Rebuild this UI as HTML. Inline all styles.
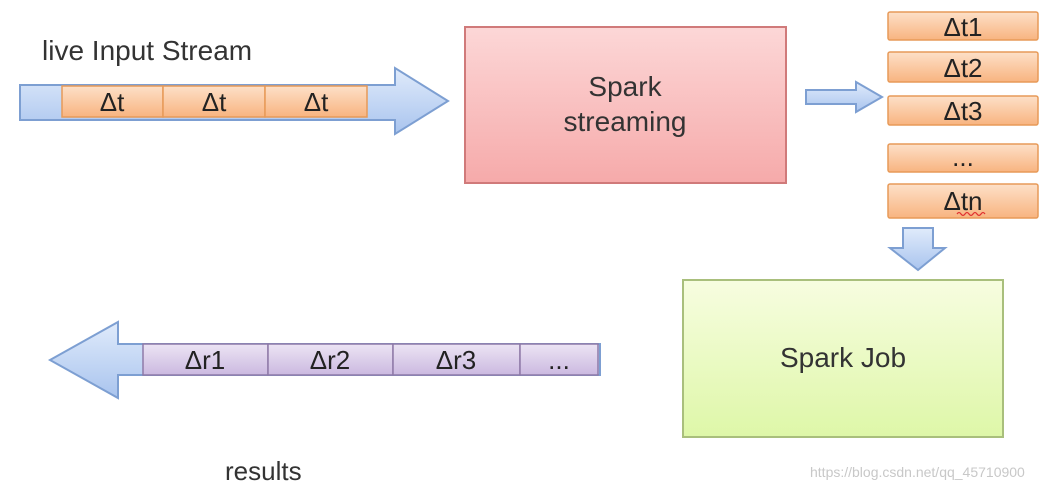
<!DOCTYPE html>
<html><head><meta charset="utf-8"><style>
html,body{margin:0;padding:0;background:#fff;}
svg{display:block;font-family:"Liberation Sans","DejaVu Sans",sans-serif;}
</style></head><body>
<svg width="1063" height="490" viewBox="0 0 1063 490" xmlns="http://www.w3.org/2000/svg">
<defs>
<linearGradient id="blue" x1="0" y1="0" x2="0" y2="1"><stop offset="0" stop-color="#e0ebfb"/><stop offset="1" stop-color="#a9c4ee"/></linearGradient>
<linearGradient id="orange" x1="0" y1="0" x2="0" y2="1"><stop offset="0" stop-color="#fde0c8"/><stop offset="1" stop-color="#f8b480"/></linearGradient>
<linearGradient id="pink" x1="0" y1="0" x2="0" y2="1"><stop offset="0" stop-color="#fcd7d7"/><stop offset="1" stop-color="#f6aaaa"/></linearGradient>
<linearGradient id="green" x1="0" y1="0" x2="0" y2="1"><stop offset="0" stop-color="#f7fde0"/><stop offset="1" stop-color="#def7a8"/></linearGradient>
<linearGradient id="purple" x1="0" y1="0" x2="0" y2="1"><stop offset="0" stop-color="#ece4f4"/><stop offset="1" stop-color="#cbb9e0"/></linearGradient>
</defs>

<text x="42" y="60" font-size="28" fill="#333">live Input Stream</text>
<polygon points="20,85 395,85 395,68 448,101 395,134 395,120 20,120" fill="url(#blue)" stroke="#7d9fd2" stroke-width="2"/>
<g stroke="#e79a58" stroke-width="1.5" fill="url(#orange)">
<rect x="62" y="86" width="101" height="31"/><rect x="163" y="86" width="102" height="31"/><rect x="265" y="86" width="102" height="31"/>
</g>
<g font-size="26" text-anchor="middle" fill="#222">
<text x="112" y="111">Δt</text><text x="214" y="111">Δt</text><text x="316" y="111">Δt</text>
</g>

<rect x="465" y="27" width="321" height="156" fill="url(#pink)" stroke="#d07a7a" stroke-width="2"/>
<text x="625" y="96" font-size="28" text-anchor="middle" fill="#333">Spark</text>
<text x="625" y="131" font-size="28" text-anchor="middle" fill="#333">streaming</text>

<polygon points="806,90 856,90 856,82 882,97 856,112 856,104 806,104" fill="url(#blue)" stroke="#7d9fd2" stroke-width="2"/>

<g stroke="#e79a58" stroke-width="1.5" fill="url(#orange)">
<rect x="888" y="12" width="150" height="28" rx="2"/>
<rect x="888" y="52" width="150" height="30" rx="2"/>
<rect x="888" y="96" width="150" height="29" rx="2"/>
<rect x="888" y="144" width="150" height="28" rx="2"/>
<rect x="888" y="184" width="150" height="34" rx="2"/>
</g>
<g font-size="26" text-anchor="middle" fill="#222">
<text x="963" y="36">Δt1</text><text x="963" y="77">Δt2</text><text x="963" y="120">Δt3</text>
<text x="963" y="166">...</text><text x="963" y="210">Δtn</text>
</g>
<path d="M957,214 q2,-3 4,0 t4,0 t4,0 t4,0 t4,0 t4,0 t4,0" stroke="#e03030" stroke-width="1.2" fill="none"/>

<polygon points="903,228 933,228 933,248 945,248 918,270 890,248 903,248" fill="url(#blue)" stroke="#7d9fd2" stroke-width="2"/>

<rect x="683" y="280" width="320" height="157" fill="url(#green)" stroke="#a9bf7c" stroke-width="2"/>
<text x="843" y="367" font-size="28" text-anchor="middle" fill="#333">Spark Job</text>

<polygon points="50,360 118,322 118,344 600,344 600,375 118,375 118,398" fill="url(#blue)" stroke="#7d9fd2" stroke-width="2"/>
<g stroke="#8f7aa8" stroke-width="1.5" fill="url(#purple)">
<rect x="143" y="344" width="125" height="31"/><rect x="268" y="344" width="125" height="31"/>
<rect x="393" y="344" width="127" height="31"/><rect x="520" y="344" width="78" height="31"/>
</g>
<g font-size="26" text-anchor="middle" fill="#222">
<text x="205" y="369">Δr1</text><text x="330" y="369">Δr2</text><text x="456" y="369">Δr3</text><text x="559" y="369">...</text>
</g>

<text x="225" y="480" font-size="26" fill="#333">results</text>
<text x="810" y="477" font-size="14" fill="#c8c8c8">https://blog.csdn.net/qq_45710900</text>
</svg>
</body></html>
